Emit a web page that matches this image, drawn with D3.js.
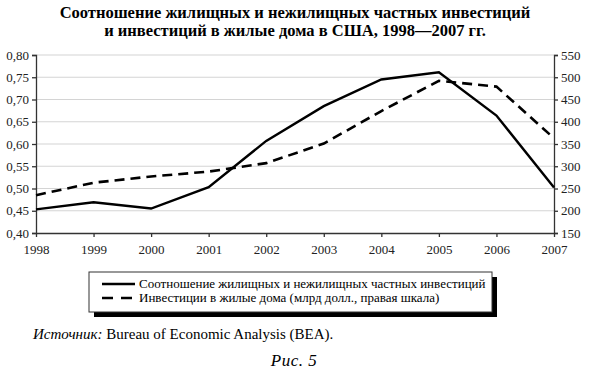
<!DOCTYPE html>
<html>
<head>
<meta charset="utf-8">
<script src="https://cdn.jsdelivr.net/npm/d3@7"></script>
<style>
  body { margin: 0; background: #fff; }
</style>
</head>
<body>
<div id="chart"></div>
<script>
// Data
const years = [1998, 1999, 2000, 2001, 2002, 2003, 2004, 2005, 2006, 2007];
const ratio = [0.453, 0.469, 0.455, 0.503, 0.607, 0.685, 0.745, 0.761, 0.664, 0.502];
const residential = [235, 263, 277, 288, 307, 351, 424, 492, 479, 363];
const leftTicks = [0.40, 0.45, 0.50, 0.55, 0.60, 0.65, 0.70, 0.75, 0.80];
const rightTicks = [150, 200, 250, 300, 350, 400, 450, 500, 550];
const titleLines = [
    'Соотношение жилищных и нежилищных частных инвестиций',
    'и инвестиций в жилые дома в США, 1998—2007 гг.'
];
const legendLabels = [
    'Соотношение жилищных и нежилищных частных инвестиций',
    'Инвестиции в жилые дома (млрд долл., правая шкала)'
];

const width = 590;
const height = 371;
const margin = { top: 55, right: 36, bottom: 138, left: 36 };
const serif = '"Liberation Serif", "Times New Roman", serif';

const svg = d3.select('#chart')
    .append('svg')
    .attr('width', width)
    .attr('height', height);

// Scales
const x = d3.scalePoint()
    .domain(years)
    .range([margin.left, width - margin.right]);

const yLeft = d3.scaleLinear()
    .domain([0.40, 0.80])
    .range([height - margin.bottom, margin.top]);

const yRight = d3.scaleLinear()
    .domain([150, 550])
    .range([height - margin.bottom, margin.top]);

// Title
svg.append('g')
    .selectAll('text')
    .data(titleLines)
    .enter()
    .append('text')
    .attr('x', width / 2)
    .attr('y', (d, i) => 17.5 + i * 18)
    .attr('text-anchor', 'middle')
    .style('font-family', serif)
    .style('font-size', '16.5px')
    .style('font-weight', 'bold')
    .text(d => d);

// Gridlines
svg.append('g')
    .selectAll('line')
    .data(leftTicks.slice(1))
    .enter()
    .append('line')
    .attr('x1', margin.left)
    .attr('x2', width - margin.right)
    .attr('y1', d => yLeft(d))
    .attr('y2', d => yLeft(d))
    .attr('stroke', '#d4d4d4')
    .attr('stroke-width', 1.2);

// Axes
const fmt = d => d3.format('.2f')(d).replace('.', ',');

const leftAxis = svg.append('g')
    .attr('transform', `translate(${margin.left},0)`)
    .call(d3.axisLeft(yLeft).tickValues(leftTicks).tickFormat(fmt).tickSize(4).tickSizeOuter(4));

const rightAxis = svg.append('g')
    .attr('transform', `translate(${width - margin.right},0)`)
    .call(d3.axisRight(yRight).tickValues(rightTicks).tickSize(4).tickSizeOuter(4));

const bottomAxis = svg.append('g')
    .attr('transform', `translate(0,${height - margin.bottom})`)
    .call(d3.axisBottom(x).tickSize(4).tickSizeOuter(0).tickPadding(8));

[leftAxis, rightAxis, bottomAxis].forEach(a => {
    a.selectAll('path, line').attr('stroke', '#333').attr('stroke-width', 1.3);
    a.selectAll('text')
        .style('font-family', serif)
        .style('font-size', '13px')
        .attr('fill', '#222');
});

// Lines
const ratioLine = d3.line()
    .x((d, i) => x(years[i]))
    .y(d => yLeft(d));

const resLine = d3.line()
    .x((d, i) => x(years[i]))
    .y(d => yRight(d));

svg.append('path')
    .datum(residential)
    .attr('d', resLine)
    .attr('fill', 'none')
    .attr('stroke', '#000')
    .attr('stroke-width', 2.6)
    .attr('stroke-dasharray', '10,6');

svg.append('path')
    .datum(ratio)
    .attr('d', ratioLine)
    .attr('fill', 'none')
    .attr('stroke', '#000')
    .attr('stroke-width', 2.4);

// Legend with drop shadow
const legend = svg.append('g');

legend.append('rect')
    .attr('x', 94)
    .attr('y', 277)
    .attr('width', 403)
    .attr('height', 40)
    .attr('fill', '#000');

legend.append('rect')
    .attr('x', 89)
    .attr('y', 272)
    .attr('width', 403)
    .attr('height', 40)
    .attr('fill', '#fff')
    .attr('stroke', '#333')
    .attr('stroke-width', 1);

legend.selectAll('line')
    .data(legendLabels)
    .enter()
    .append('line')
    .attr('x1', 102)
    .attr('x2', 135)
    .attr('y1', (d, i) => 284 + i * 14)
    .attr('y2', (d, i) => 284 + i * 14)
    .attr('stroke', '#000')
    .attr('stroke-width', 2.6)
    .attr('stroke-dasharray', (d, i) => i === 1 ? '11,8' : null);

legend.selectAll('text')
    .data(legendLabels)
    .enter()
    .append('text')
    .attr('x', 139)
    .attr('y', (d, i) => 288 + i * 14)
    .style('font-family', serif)
    .style('font-size', '13px')
    .text(d => d);

// Source and figure caption
const source = svg.append('text')
    .attr('x', 33)
    .attr('y', 339)
    .style('font-family', serif)
    .style('font-size', '15px');
source.append('tspan').style('font-style', 'italic').text('Источник:');
source.append('tspan').text(' Bureau of Economic Analysis (BEA).');

svg.append('text')
    .attr('x', 294)
    .attr('y', 366)
    .attr('text-anchor', 'middle')
    .style('font-family', serif)
    .style('font-size', '17px')
    .style('font-style', 'italic')
    .style('letter-spacing', '0.5px')
    .text('Рис. 5');
</script>
</body>
</html>
